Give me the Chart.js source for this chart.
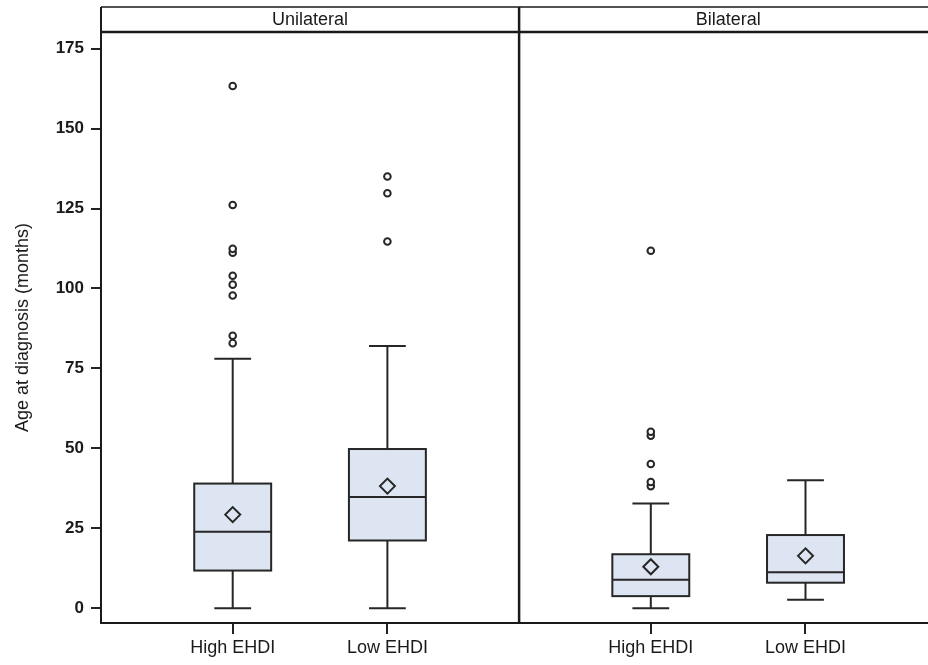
<!DOCTYPE html>
<html>
<head>
<meta charset="utf-8">
<script src="https://cdn.jsdelivr.net/npm/chart.js@4.4.1/dist/chart.umd.min.js"></script>
<style>
  html, body { margin: 0; padding: 0; background: #fff; overflow: hidden; }
  canvas { display: block; }
</style>
</head>
<body>
<canvas id="chart" width="928" height="665"></canvas>
<script>
// --- dati ---
const panels = ["Unilateral", "Bilateral"];
const groups = ["High EHDI", "Low EHDI", "High EHDI", "Low EHDI"];
const panelOf = [0, 0, 1, 1];
const whiskerLow = [0, 0, 0, 2.7];
const q1 = [11.8, 21.2, 3.8, 8.0];
const median = [23.9, 34.8, 8.9, 11.3];
const q3 = [39.0, 49.8, 16.9, 22.9];
const whiskerHigh = [78.0, 82.0, 32.8, 40.0];
const means = [29.3, 38.2, 13.0, 16.4];
const outliers = [
  [82.9, 85.2, 97.8, 101.2, 104, 111.2, 112.4, 126.1, 163.3],
  [114.7, 129.8, 135.0],
  [38.2, 39.5, 45.1, 54.0, 55.2, 111.8],
  []
];
const yTicks = [0, 25, 50, 75, 100, 125, 150, 175];

// layout
const slot = [0.315, 0.685];          // posizione dei box dentro ogni pannello
const xPos = groups.map((g, i) => panelOf[i] + slot[i % 2]);
const boxHalf = 0.092;
const capHalf = 0.044;
const ink = "#262626";
const boxFill = "#dce5f1";
const font = "'Liberation Sans', Arial, sans-serif";

const outlierPts = [];
outliers.forEach((list, i) => list.forEach(v => outlierPts.push({ x: xPos[i], y: v })));
const meanPts = means.map((v, i) => ({ x: xPos[i], y: v }));

const boxPlugin = {
  id: "boxes",
  beforeDatasetsDraw(chart) {
    const { ctx, scales: { x, y } } = chart;
    ctx.save();
    ctx.strokeStyle = ink;
    ctx.lineWidth = 2;
    groups.forEach((g, i) => {
      const cx = x.getPixelForValue(xPos[i]);
      const bw = x.getPixelForValue(xPos[i] + boxHalf) - cx;
      const cw = x.getPixelForValue(xPos[i] + capHalf) - cx;
      const yLo = y.getPixelForValue(whiskerLow[i]);
      const yHi = y.getPixelForValue(whiskerHigh[i]);
      const y1 = y.getPixelForValue(q1[i]);
      const y3 = y.getPixelForValue(q3[i]);
      const ym = y.getPixelForValue(median[i]);
      ctx.beginPath();
      ctx.moveTo(cx, yLo); ctx.lineTo(cx, y1);
      ctx.moveTo(cx, y3); ctx.lineTo(cx, yHi);
      ctx.moveTo(cx - cw, yLo); ctx.lineTo(cx + cw, yLo);
      ctx.moveTo(cx - cw, yHi); ctx.lineTo(cx + cw, yHi);
      ctx.stroke();
      ctx.fillStyle = boxFill;
      ctx.fillRect(cx - bw, y3, 2 * bw, y1 - y3);
      ctx.strokeRect(cx - bw, y3, 2 * bw, y1 - y3);
      ctx.beginPath();
      ctx.moveTo(cx - bw, ym); ctx.lineTo(cx + bw, ym);
      ctx.stroke();
    });
    ctx.restore();
  }
};

const framePlugin = {
  id: "frame",
  afterDraw(chart) {
    const { ctx, chartArea: a, scales: { x } } = chart;
    const top = 7;
    const right = chart.width;
    ctx.save();
    ctx.strokeStyle = "#1a1a1a";
    ctx.lineWidth = 1.5;
    ctx.beginPath(); ctx.moveTo(a.left, top); ctx.lineTo(right, top); ctx.stroke();
    ctx.lineWidth = 2.5;
    ctx.beginPath(); ctx.moveTo(a.left, a.top); ctx.lineTo(right, a.top); ctx.stroke();
    ctx.lineWidth = 2;
    ctx.beginPath(); ctx.moveTo(a.left, top); ctx.lineTo(a.left, a.top); ctx.stroke();
    const xd = x.getPixelForValue(1);
    ctx.lineWidth = 2.5;
    ctx.beginPath(); ctx.moveTo(xd, top); ctx.lineTo(xd, a.bottom); ctx.stroke();
    ctx.fillStyle = "#1a1a1a";
    ctx.font = "18px " + font;
    ctx.textAlign = "center";
    ctx.textBaseline = "middle";
    panels.forEach((p, i) => {
      ctx.fillText(p, x.getPixelForValue(i + 0.5), (top + a.top) / 2 + 1);
    });
    ctx.restore();
  }
};

new Chart(document.getElementById("chart"), {
  type: "scatter",
  data: {
    datasets: [
      {
        label: "Outliers",
        data: outlierPts,
        pointStyle: "circle",
        pointRadius: 3.3,
        pointBorderWidth: 2,
        pointBackgroundColor: "#fff",
        pointBorderColor: ink
      },
      {
        label: "Mean",
        data: meanPts,
        pointStyle: "rectRot",
        pointRadius: 7.5,
        pointBorderWidth: 2,
        pointBackgroundColor: "rgba(0,0,0,0)",
        pointBorderColor: ink
      }
    ]
  },
  options: {
    responsive: false,
    animation: false,
    devicePixelRatio: 1,
    layout: { autoPadding: false, padding: { top: 32, right: 0, left: 0, bottom: 0 } },
    plugins: { legend: { display: false }, tooltip: { enabled: false } },
    scales: {
      x: {
        type: "linear",
        min: 0,
        max: 1.978,
        offset: false,
        afterFit: s => { s.height = 42; s.paddingLeft = 0; s.paddingRight = 0; },
        afterBuildTicks: s => { s.ticks = xPos.map(v => ({ value: v })); },
        grid: { drawOnChartArea: false, drawTicks: true, tickLength: 11, color: "#222", lineWidth: 2 },
        border: { display: true, color: "#1a1a1a", width: 2 },
        ticks: {
          autoSkip: false,
          maxRotation: 0,
          padding: 3,
          color: "#1a1a1a",
          font: { family: font, size: 18 },
          callback: (v, i) => groups[i]
        }
      },
      y: {
        min: -4.6,
        max: 180.2,
        afterFit: s => { s.width = 101; },
        afterBuildTicks: s => { s.ticks = yTicks.map(v => ({ value: v })); },
        grid: { drawOnChartArea: false, drawTicks: true, tickLength: 10, color: "#222", lineWidth: 2 },
        border: { display: true, color: "#1a1a1a", width: 2 },
        ticks: {
          padding: 7,
          color: "#1a1a1a",
          font: { family: font, size: 17, weight: "bold" }
        },
        title: {
          display: true,
          text: "Age at diagnosis (months)",
          color: "#1a1a1a",
          padding: { top: 12, bottom: 0 },
          font: { family: font, size: 18 }
        }
      }
    }
  },
  plugins: [boxPlugin, framePlugin]
});
</script>
</body>
</html>
